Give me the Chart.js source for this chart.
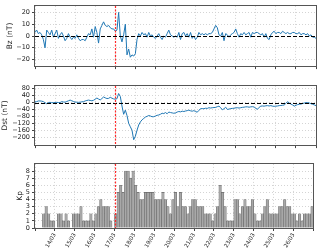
<!DOCTYPE html>
<html lang="en">

<head>
    <meta charset="UTF-8">
    <title>Bz, Dst, Kp 13/03 - 27/03</title>
    <script src="https://cdn.jsdelivr.net/npm/chart.js"></script>
    <style>
        body {
            margin: 0;
            padding: 0;
            background: #ffffff;
        }

        #wrap {
            position: relative;
            width: 320px;
            height: 250px;
            overflow: hidden;
        }

        canvas {
            position: absolute;
            left: 0;
        }
    </style>
</head>

<body>
    <div id="wrap">
        <canvas id="bzChart" width="320" height="72" style="top:0px"></canvas>
        <canvas id="dstChart" width="320" height="71" style="top:80px"></canvas>
        <canvas id="kpChart" width="320" height="92" style="top:158px"></canvas>
    </div>
    <script>
        // hours since 13/03 00:00
        const X_MAX = 336;
        const EVENT_HOUR = 96; // 17/03 00:00, red dotted line
        const DAY_LABELS = ['14/03', '15/03', '16/03', '17/03', '18/03', '19/03', '20/03',
            '21/03', '22/03', '23/03', '24/03', '25/03', '26/03'];

        // Bz and Dst: one value every 2 hours, from 13/03 00:00 to 27/03 00:00
        const STEP_HOURS = 2;
        const bz = [
            3, 5, 2, 3, 1, -3, -10, 5, 3, 1, 5, -1,
            2, 5, -2, 1, 3, 0, -4, -2, 2, -1, -3, -1,
            -2, 1, -2, -4, -3, -3, -4, -1, 2, 1, 6, -1,
            8, 3, -6, 6, 9, 12, 9, 8, 9, 7, 6, 6,
            4, 5, 20, 0, -5, 1, 10, -16, -11, -18, -16, -17,
            -15, -3, 2, 0, 3, 1, 2, -1, 3, 0, 1, -1,
            -2, 0, 2, -1, -3, 0, -1, 2, 5, 1, 0, -1,
            0, -1, 3, -3, 2, 3, 0, 2, -1, 3, -2, 0,
            -3, -1, 3, 1, 2, 1, 2, 1, 2, 2, 3, 6,
            9, 7, 1, 0, 3, -4, 2, 1, -1, 1, 2, 3,
            6, 2, -1, 2, 1, 3, 1, 2, 3, -1, 3, 2,
            3, 3, 2, 1, 2, -1, 2, -2, -3, 1, 3, 4,
            2, 3, 3, 2, 4, 3, 2, 3, 2, 2, 3, 3,
            2, 2, 3, 1, 2, 2, 1, 2, 0, 1, -1, -1,
            -2
        ];
        const dst = [
            3, 5, 9, 9, 8, 5, -1, -7, 0, 1, -1, -1,
            0, 1, 0, 0, 5, 3, 2, 6, 10, 14, 10, 6,
            2, 2, 1, 2, 4, 5, 9, 12, 14, 12, 10, 13,
            19, 26, 20, 15, 23, 32, 27, 23, 24, 30, 25, 21,
            19, 22, 52, 35, -20, -68, -44, -75, -120, -140, -160, -215,
            -195, -160, -130, -112, -100, -92, -84, -80, -75, -78, -82, -82,
            -78, -74, -72, -68, -62, -64, -58, -65, -55, -58, -60, -62,
            -60, -55, -52, -54, -50, -52, -49, -47, -44, -48, -50, -47,
            -52, -56, -45, -36, -35, -36, -33, -34, -30, -32, -30, -29,
            -28, -24, -21, -30, -42, -36, -27, -40, -38, -35, -34, -33,
            -31, -30, -32, -30, -28, -27, -25, -25, -27, -25, -24, -26,
            -34, -39, -28, -21, -20, -21, -19, -18, -20, -18, -21, -22,
            -21, -20, -18, -17, -16, -14, -5, 5, -3, -9, -14, -21,
            -16, -12, -10, -9, -6, -3, -1, 0, -3, -7, -10, -14,
            -18
        ];

        // Kp: 3-hour bars, first one 13/03 09:00-12:00
        const KP_START = 9;
        const KP_STEP = 3;
        const kp = [
            2, 3, 2, 1, 1, 0, 2, 2, 1, 2, 1, 0, 2, 2, 2, 3, 1, 1, 1, 2, 1, 2, 3, 4, 3, 3, 3, 1, 0,
            2, 5, 6, 5, 8, 8, 7, 8, 6, 5, 4, 4, 5, 5, 5, 5, 4, 4,
            4, 5, 4, 3, 2, 4, 5, 3, 5, 3, 3, 2, 3, 4, 4, 3, 3, 3, 2, 2, 2, 1, 2, 3,
            6, 5, 3, 1, 1, 1, 4, 4, 2, 3, 4, 3, 3, 4, 2, 1, 1, 2, 3, 4, 2, 2, 2, 2,
            3, 3, 4, 3, 3, 2, 2, 1, 2, 1, 2, 2, 2, 3
        ];

        const BZ_TICKS = [-20, -10, 0, 10, 20];
        const DST_TICKS = [-200, -160, -120, -80, -40, 0, 40, 80];
        const KP_TICKS = [0, 1, 2, 3, 4, 5, 6, 7, 8];

        Chart.defaults.font.family = 'DejaVu Sans';
        Chart.defaults.color = '#222';
        Chart.defaults.animation = false;

        const toMinus = v => String(v).replace('-', '\u2212');

        // frame, zero line and event line, drawn over the data
        const overlayPlugin = {
            id: 'overlay',
            afterDraw(chart, args, opts) {
                const { ctx, chartArea: a, scales: { x, y } } = chart;
                ctx.save();
                ctx.beginPath();
                ctx.rect(a.left, a.top, a.width, a.height);
                ctx.clip();
                if (opts.zeroLine) {
                    const py = Math.round(y.getPixelForValue(0)) + 0.5;
                    ctx.strokeStyle = '#000';
                    ctx.lineWidth = 1;
                    ctx.setLineDash([4, 2]);
                    ctx.beginPath();
                    ctx.moveTo(a.left, py);
                    ctx.lineTo(a.right, py);
                    ctx.stroke();
                }
                const px = Math.round(x.getPixelForValue(EVENT_HOUR)) + 0.5;
                ctx.strokeStyle = 'rgb(255, 40, 40)';
                ctx.lineWidth = 1.2;
                ctx.setLineDash([2, 1.5]);
                ctx.beginPath();
                ctx.moveTo(px, a.top);
                ctx.lineTo(px, a.bottom);
                ctx.stroke();
                ctx.restore();

                ctx.save();
                ctx.strokeStyle = '#555';
                ctx.lineWidth = 1;
                ctx.strokeRect(Math.round(a.left) - 0.5, Math.round(a.top) - 0.5,
                    Math.round(a.width) + 1, Math.round(a.height) + 1);
                ctx.restore();
            }
        };

        const gridOpts = {
            color: '#d4d4d4',
            tickColor: '#444',
            tickLength: 3,
            tickWidth: 1,
            offset: false
        };

        function xScale(withLabels, height) {
            return {
                type: 'linear',
                min: 0,
                max: X_MAX,
                offset: false,
                afterBuildTicks: s => {
                    s.ticks = DAY_LABELS.concat(['', '']).map((_, i) => ({ value: i * 24 }));
                },
                afterFit: s => { s.height = height; },
                grid: gridOpts,
                border: { display: false, dash: [1, 2] },
                ticks: {
                    display: withLabels,
                    autoSkip: false,
                    minRotation: 60,
                    maxRotation: 60,
                    padding: 1,
                    font: { size: 5.5 },
                    callback: v => DAY_LABELS[v / 24 - 1] || ''
                }
            };
        }

        function yScale(min, max, tickValues, title, titlePad) {
            return {
                min: min,
                max: max,
                afterBuildTicks: s => { s.ticks = tickValues.map(v => ({ value: v })); },
                afterFit: s => { s.width = 35; },
                grid: gridOpts,
                border: { display: false, dash: [1, 2] },
                ticks: {
                    autoSkip: false,
                    padding: 2,
                    font: { size: 6.5 },
                    callback: v => toMinus(v)
                },
                title: {
                    display: true,
                    text: title,
                    font: { size: 7.5 },
                    padding: { top: titlePad, bottom: 0 }
                }
            };
        }

        const common = {
            responsive: false,
            layout: { padding: { top: 3, right: 4, left: 0, bottom: 0 } },
            plugins: {
                legend: { display: false },
                tooltip: { enabled: false }
            }
        };

        function lineChart(id, values, yMin, yMax, ticks, title, titlePad) {
            return new Chart(document.getElementById(id), {
                type: 'line',
                data: {
                    datasets: [{
                        data: values.map((v, i) => ({ x: i * STEP_HOURS, y: v })),
                        borderColor: '#1f77b4',
                        borderWidth: 1,
                        pointRadius: 0,
                        tension: 0
                    }]
                },
                options: {
                    ...common,
                    plugins: { ...common.plugins, overlay: { zeroLine: true } },
                    scales: {
                        x: xScale(false, 3),
                        y: yScale(yMin, yMax, ticks, title, titlePad)
                    }
                },
                plugins: [overlayPlugin]
            });
        }

        lineChart('bzChart', bz, -25.5, 25.5, BZ_TICKS, 'Bz (nT)', 6);
        lineChart('dstChart', dst, -246, 96, DST_TICKS, 'Dst (nT)', 1);

        new Chart(document.getElementById('kpChart'), {
            type: 'bar',
            data: {
                datasets: [{
                    data: kp.map((v, i) => ({ x: KP_START + i * KP_STEP + KP_STEP / 2, y: v })),
                    backgroundColor: '#a8a8a8',
                    borderColor: '#6a6a6a',
                    borderWidth: 0.6,
                    barPercentage: 1,
                    categoryPercentage: 1
                }]
            },
            options: {
                ...common,
                plugins: { ...common.plugins, overlay: { zeroLine: false } },
                scales: {
                    x: xScale(true, 22),
                    y: yScale(0, 9, KP_TICKS, 'Kp', 16)
                }
            },
            plugins: [overlayPlugin]
        });
    </script>
</body>

</html>
